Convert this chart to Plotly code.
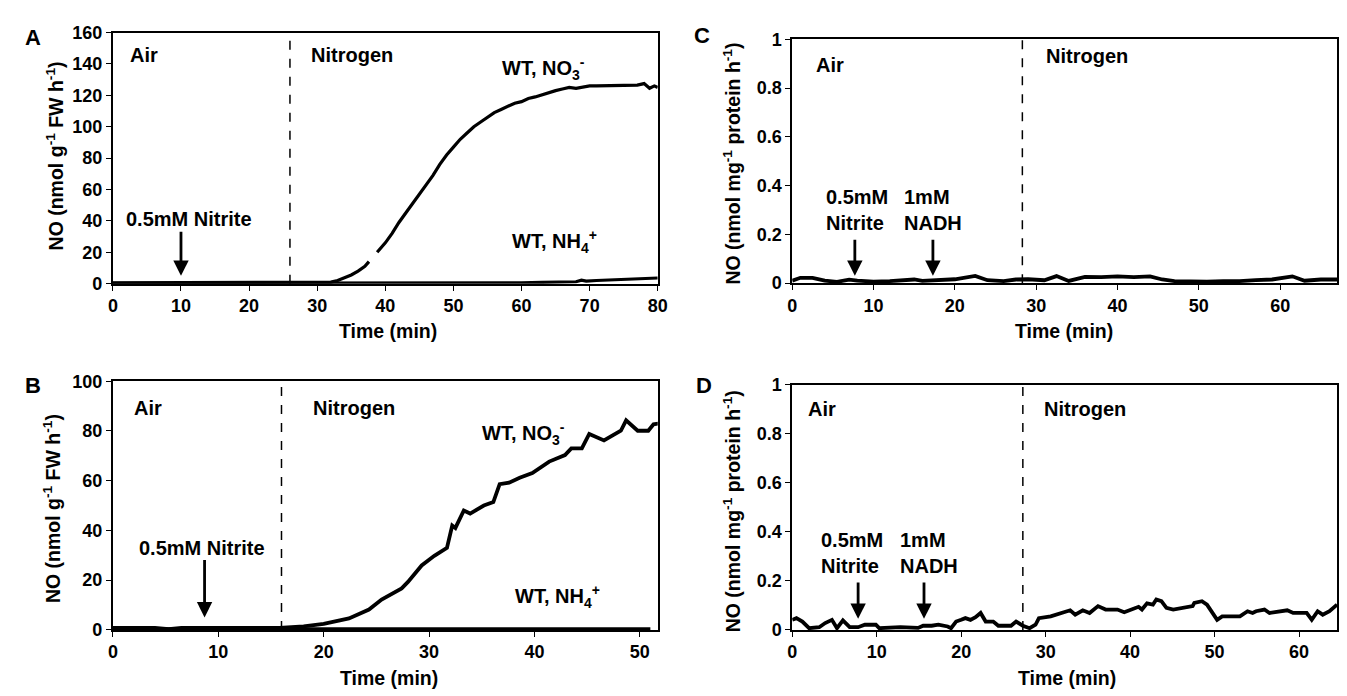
import plotly.graph_objects as go

# ---------------- Data ----------------
# Panel A
tA_no3 = [0, 5, 10, 15, 20, 25, 27, 29, 31, 32, 33, 34, 35, 36, 37, 37.6, None, 38.8, 40, 41, 42, 43, 44, 45,
          46, 47, 48, 49, 50, 51, 52, 53, 54, 55, 56, 57, 58, 59, 60, 61, 62, 63, 64, 65, 66, 67, 68, 69,
          70, 71, 72, 73, 74, 75, 76, 77, 78, 78.8, 79.5, 80]
yA_no3 = [0.5, 0.5, 0.5, 0.5, 0.5, 0.5, 0.5, 0.5, 0.7, 1, 2, 3.5, 5.5, 8, 11, 14, None, 20, 26, 32, 39, 45, 51, 57,
          63, 69, 76, 82, 87, 92, 96, 100, 103, 106, 109, 111, 113, 115, 116, 118, 119, 120.5, 121.5, 123, 124, 125, 124.5, 125.5,
          126, 126, 126, 126, 126, 126, 126, 126.5, 127.5, 124.5, 126, 125]
tA_nh4 = [0, 10, 20, 30, 40, 50, 60, 63, 66, 68, 68.8, 69.5, 71, 73, 75, 77, 79, 80]
yA_nh4 = [0.2, 0.2, 0.2, 0.2, 0.2, 0.3, 0.5, 0.8, 1.0, 1.2, 2.2, 1.6, 2.0, 2.3, 2.6, 2.8, 3.0, 3.6]

# Panel B
tB_no3 = [0, 2, 4, 5.3, 6.5, 8, 10, 12, 14, 15.8, 18.1, 20, 22.4, 24.3, 25.5, 27.4, 28, 29.3, 30.5, 31.7, 32.2,
          32.5, 33.3, 33.9, 35.2, 36.1, 36.7, 37.6, 38.6, 39.8, 41.4, 42.9, 43.5, 44.5, 45.2, 46.6, 48.2, 48.7,
          49.8, 50.8, 51.3, 51.8]
yB_no3 = [0.8, 0.8, 0.8, 0.3, 0.8, 0.8, 0.8, 0.8, 0.8, 0.8, 1.4, 2.4, 4.6, 8.2, 12.2, 16.7, 19.3, 25.9, 29.8, 33, 42,
          41, 48, 46.8, 50, 51.4, 58.6, 59.2, 61.2, 63.1, 67.7, 70.3, 73, 73, 78.8, 76.2, 80.1, 84.3,
          80.1, 80.1, 82.7, 83]
tB_nh4 = [0, 10, 20, 30, 40, 51]
yB_nh4 = [0.3, 0.3, 0.3, 0.3, 0.3, 0.3]

# Panel C
tC = [0, 1, 2.5, 4, 5.5, 7, 8, 10, 12, 14, 15, 16, 18, 20, 22.5, 24, 26, 27.5, 29, 31, 32.5, 34, 36, 38, 40,
      42, 44, 45.5, 47, 49, 51, 53, 55, 57, 59, 61.5, 63, 65, 67]
yC = [0.01, 0.022, 0.022, 0.01, 0.005, 0.014, 0.01, 0.006, 0.008, 0.012, 0.015, 0.009, 0.012, 0.016, 0.03, 0.012,
      0.008, 0.015, 0.016, 0.012, 0.029, 0.009, 0.026, 0.025, 0.028, 0.025, 0.028, 0.015, 0.008, 0.006, 0.006,
      0.008, 0.008, 0.012, 0.015, 0.028, 0.01, 0.015, 0.015]

# Panel D
tD = [0, 0.5, 1.2, 2, 3.2, 3.9, 4.7, 5.3, 6, 6.8, 7.8, 8.6, 9.9, 10.3, 12.8, 14.9, 15.5, 16.5, 17.3, 18.4, 18.8,
      19.4, 20, 20.5, 21.1, 21.7, 22.3, 22.9, 23.8, 24.4, 25.9, 26.5, 27.3, 28.1, 28.8, 29.2, 30.6, 32.1, 32.9,
      33.5, 34.4, 35.2, 36.2, 37.1, 38.5, 39.3, 40.2, 41, 41.4, 42, 42.7, 43.1, 43.7, 44.3, 45.1, 46, 46.8,
      47.4, 47.6, 48.5, 49.1, 49.9, 50.3, 50.9, 53, 53.9, 54.5, 54.9, 55.9, 56.5, 57.6, 58.6, 59.3, 60.9,
      61.5, 62.2, 62.8, 63.6, 64.5]
yD = [0.041, 0.048, 0.034, 0.007, 0.011, 0.028, 0.041, 0.007, 0.039, 0.011, 0.011, 0.021, 0.021, 0.007, 0.011,
      0.008, 0.017, 0.017, 0.021, 0.014, 0.007, 0.034, 0.041, 0.048, 0.041, 0.052, 0.069, 0.034, 0.034, 0.017,
      0.017, 0.034, 0.017, 0.007, 0.021, 0.048, 0.055, 0.069, 0.08, 0.062, 0.08, 0.069, 0.097, 0.083, 0.083,
      0.072, 0.083, 0.094, 0.083, 0.108, 0.103, 0.124, 0.117, 0.09, 0.083, 0.087, 0.094, 0.097, 0.11, 0.117,
      0.103, 0.062, 0.041, 0.055, 0.055, 0.076, 0.069, 0.076, 0.083, 0.069, 0.076, 0.08, 0.069, 0.069, 0.041,
      0.076, 0.062, 0.076, 0.103]

# switch times (air -> nitrogen)
switch = {"A": 26, "B": 16, "C": 28.3, "D": 27.3}

# ---------------- Figure ----------------
W, H = 1347, 696
FONT = "Liberation Sans, Arial, sans-serif"


def px(x):
    return x / W


def py(y):
    return 1 - y / H


fig = go.Figure()

panels = {
    "A": dict(xa="x", ya="y", xd=[px(101), px(652)], yd=[py(273.5), py(15)], xr=[0, 80], yr=[0, 160], dy=20),
    "C": dict(xa="x2", ya="y2", xd=[px(788), px(1339)], yd=[py(273), py(22)], xr=[0, 67], yr=[0, 1], dy=0.2),
    "B": dict(xa="x3", ya="y3", xd=[px(101), px(652)], yd=[py(630), py(374)], xr=[0, 51.7], yr=[0, 100], dy=20),
    "D": dict(xa="x4", ya="y4", xd=[px(788), px(1339)], yd=[py(630), py(377.5)], xr=[0, 64.5], yr=[0, 1], dy=0.2),
}

series = [
    ("A", tA_no3, yA_no3, 3.2), ("A", tA_nh4, yA_nh4, 3.2),
    ("B", tB_no3, yB_no3, 3.8), ("B", tB_nh4, yB_nh4, 3.8),
    ("C", tC, yC, 3.8), ("D", tD, yD, 3.8),
]
for p, t, v, w in series:
    fig.add_trace(go.Scatter(x=t, y=v, mode="lines", line=dict(color="black", width=w),
                             xaxis=panels[p]["xa"], yaxis=panels[p]["ya"], connectgaps=False,
                             showlegend=False, hoverinfo="skip"))

tickfont = dict(family=FONT, size=18, color="black", weight="bold")
for i, (p, d) in enumerate(panels.items()):
    suffix = "" if i == 0 else str(i + 1)
    fig.layout["xaxis" + suffix] = dict(
        domain=d["xd"], range=d["xr"], anchor=d["ya"], dtick=10, tick0=0,
        showline=True, linecolor="black", linewidth=1.8, mirror=True,
        ticks="outside", ticklen=5, tickwidth=1, tickcolor="black",
        showgrid=False, zeroline=False, tickfont=tickfont, fixedrange=True)
    fig.layout["yaxis" + suffix] = dict(
        domain=d["yd"], range=d["yr"], anchor=d["xa"], dtick=d["dy"], tick0=0,
        showline=True, linecolor="black", linewidth=1.8, mirror=True,
        ticks="outside", ticklen=5, tickwidth=1, tickcolor="black",
        showgrid=False, zeroline=False, tickfont=tickfont, fixedrange=True)
    fig.add_shape(type="line", xref=d["xa"], yref=d["ya"], x0=switch[p], x1=switch[p],
                  y0=d["yr"][0], y1=d["yr"][1], line=dict(color="black", width=1.5, dash="dash"))

anns = []
tf = dict(family=FONT, size=20, color="black", weight="bold")


def txt(p, x, y, s, xanchor="center", align="center"):
    anns.append(dict(xref=panels[p]["xa"], yref=panels[p]["ya"], x=x, y=y, text=s, showarrow=False,
                     font=tf, xanchor=xanchor, yanchor="middle", align=align))


def arrow(p, x, y_tip, y_top):
    anns.append(dict(xref=panels[p]["xa"], yref=panels[p]["ya"], x=x, y=y_tip, ax=x, ay=y_top,
                     axref=panels[p]["xa"], ayref=panels[p]["ya"], text="", showarrow=True,
                     arrowhead=2, arrowsize=1.1, arrowwidth=2.8, arrowcolor="black"))


# Panel A
txt("A", 4.5, 146, "Air")
txt("A", 35.1, 146, "Nitrogen")
txt("A", 63.3, 137, "WT, NO<sub>3</sub><sup>-</sup>")
txt("A", 64.8, 27, "WT, NH<sub>4</sub><sup>+</sup>")
txt("A", 11.2, 41, "0.5mM Nitrite")
arrow("A", 10, 5, 34)
# Panel B
txt("B", 3.3, 89.4, "Air")
txt("B", 22.9, 89.4, "Nitrogen")
txt("B", 39, 79, "WT, NO<sub>3</sub><sup>-</sup>")
txt("B", 42.2, 13.4, "WT, NH<sub>4</sub><sup>+</sup>")
txt("B", 8.5, 32.9, "0.5mM Nitrite")
arrow("B", 8.7, 5, 28.7)
# Panel C
txt("C", 4.6, 0.893, "Air")
txt("C", 36.2, 0.933, "Nitrogen")
txt("C", 3.9, 0.30, "0.5mM<br>Nitrite", xanchor="left", align="left")
txt("C", 13.5, 0.30, "1mM<br>NADH", xanchor="left", align="left")
arrow("C", 7.7, 0.03, 0.184)
arrow("C", 17.3, 0.03, 0.184)
# Panel D
txt("D", 3.5, 0.901, "Air")
txt("D", 34.7, 0.901, "Nitrogen")
txt("D", 3.2, 0.314, "0.5mM<br>Nitrite", xanchor="left", align="left")
txt("D", 12.5, 0.314, "1mM<br>NADH", xanchor="left", align="left")
arrow("D", 7.8, 0.045, 0.199)
arrow("D", 15.6, 0.045, 0.199)

# axis titles & panel letters
atf = dict(family=FONT, size=19.5, color="black", weight="bold")
ytitle_fw = "NO (nmol g<sup>-1</sup> FW h<sup>-1</sup>)"
ytitle_pr = "NO (nmol mg<sup>-1</sup> protein h<sup>-1</sup>)"
for x, y, s, ang in [
    (42, 142, ytitle_fw, -90), (40, 505, ytitle_fw, -90),
    (727, 150, ytitle_pr, -90), (727, 508, ytitle_pr, -90),
    (379, 322, "Time (min)", 0), (380, 680, "Time (min)", 0),
    (1063, 322, "Time (min)", 0), (1066, 680, "Time (min)", 0),
]:
    anns.append(dict(xref="paper", yref="paper", x=px(x), y=py(y), text=s, showarrow=False,
                     font=atf, textangle=ang, xanchor="center", yanchor="middle"))

lf = dict(family=FONT, size=22, color="black", weight="bold")
for x, y, s in [(20, 20, "A"), (20, 378, "B"), (697, 18, "C"), (699, 378, "D")]:
    anns.append(dict(xref="paper", yref="paper", x=px(x), y=py(y), text=s, showarrow=False,
                     font=lf, xanchor="center", yanchor="middle"))

fig.update_layout(
    width=W, height=H, margin=dict(l=0, r=0, t=0, b=0),
    paper_bgcolor="white", plot_bgcolor="white",
    annotations=anns, showlegend=False,
)

fig.write_html("out.html")
